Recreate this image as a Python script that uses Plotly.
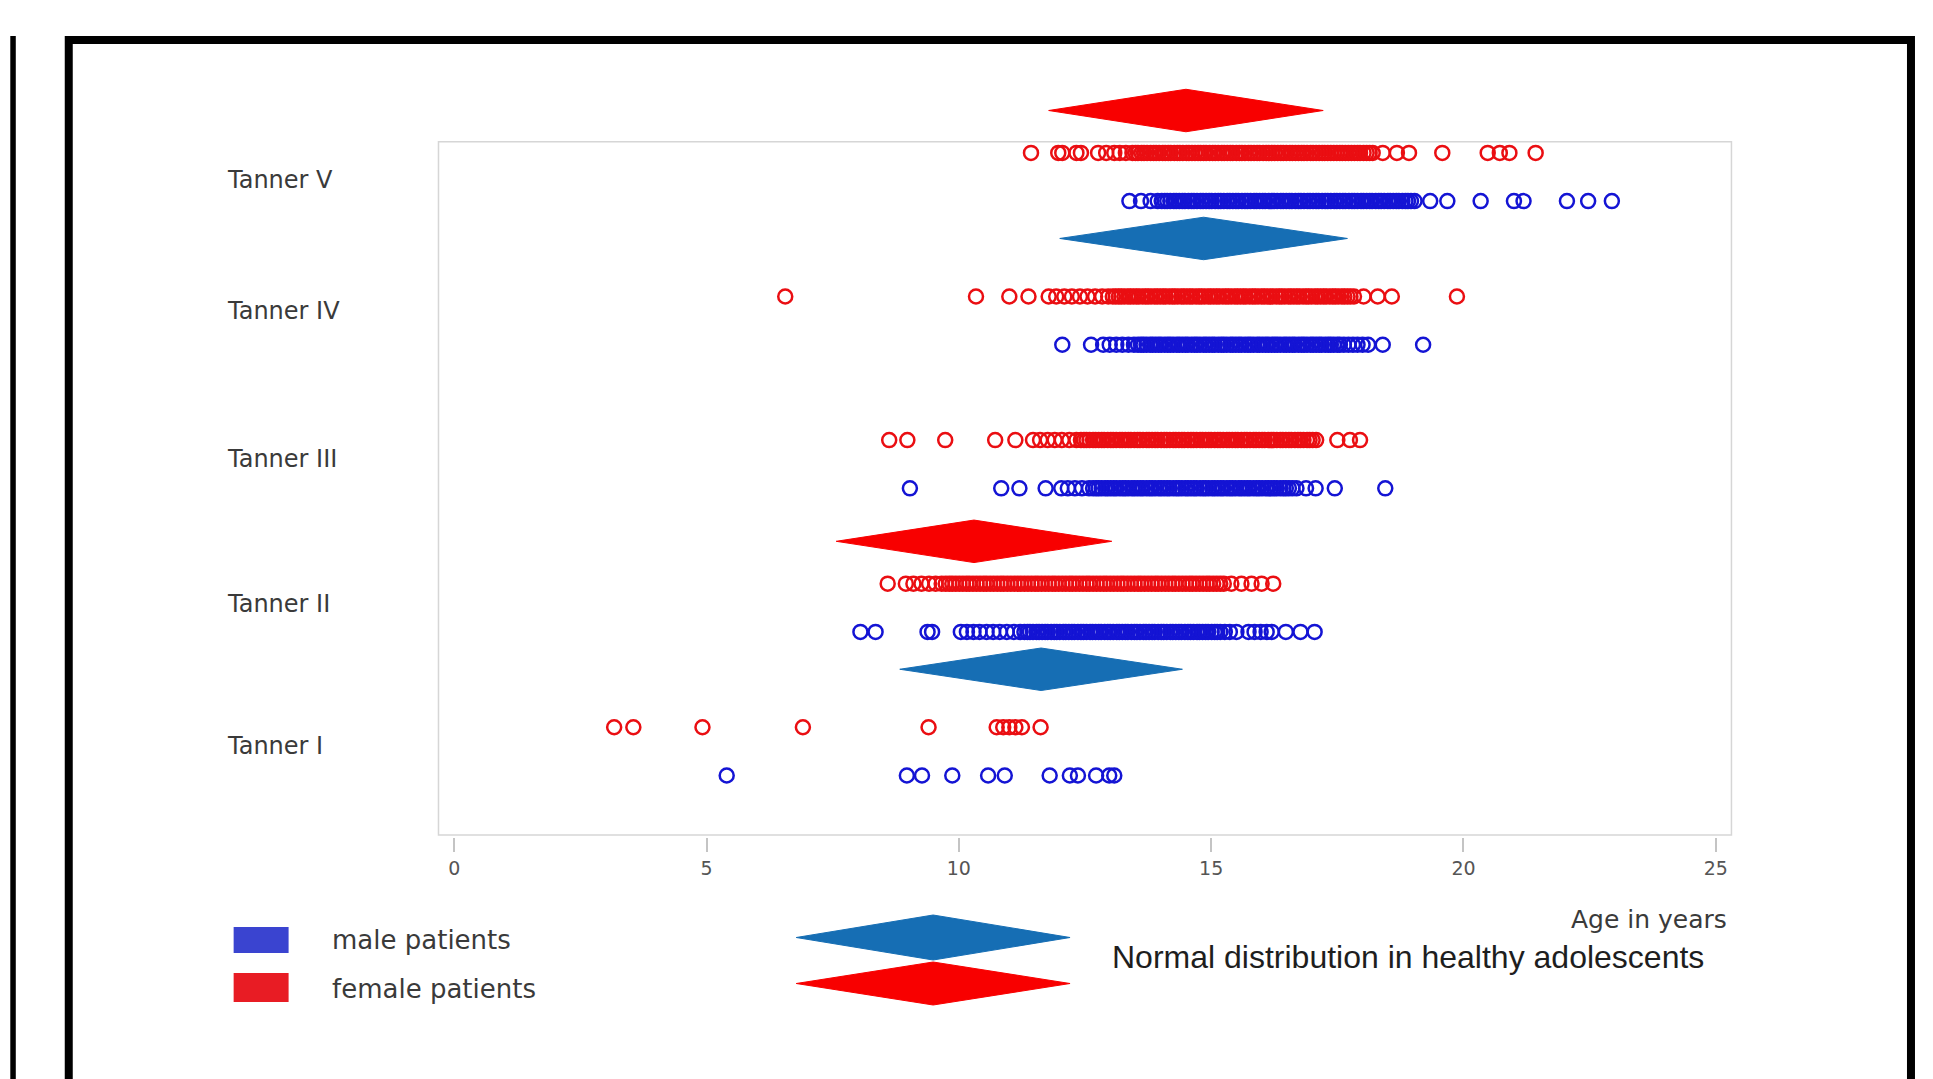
import plotly.graph_objects as go

# ---------------- data ----------------
stages = ["Tanner I", "Tanner II", "Tanner III", "Tanner IV", "Tanner V"]
x_ticks = [0, 5, 10, 15, 20, 25]

female_I = [3.17, 3.55, 4.92, 6.91, 9.4, 10.75, 10.88, 11.0, 11.12, 11.25, 11.62]
male_I = [5.4, 8.97, 9.27, 9.87, 10.58, 10.91, 11.8, 12.2, 12.36, 12.72, 12.98, 13.08]

female_II = [8.59, 8.95, 9.1, 9.26, 9.41, 9.54, 9.66,
             9.74, 9.81, 9.87, 9.94, 10.01, 10.08, 10.15, 10.21, 10.28, 10.35, 10.42, 10.49, 10.55,
             10.62, 10.69, 10.76, 10.83, 10.89, 10.96, 11.03, 11.1, 11.17, 11.23, 11.3, 11.37, 11.44,
             11.51, 11.57, 11.64, 11.71, 11.78, 11.85, 11.91, 11.98, 12.05, 12.12, 12.19, 12.25, 12.32,
             12.39, 12.46, 12.53, 12.59, 12.66, 12.73, 12.8, 12.87, 12.93, 13.0, 13.07, 13.14, 13.21,
             13.27, 13.34, 13.41, 13.48, 13.55, 13.61, 13.68, 13.75, 13.82, 13.89, 13.95, 14.02, 14.09,
             14.16, 14.23, 14.29, 14.36, 14.43, 14.5, 14.57, 14.63, 14.7, 14.77, 14.84, 14.91, 14.97,
             15.04, 15.11, 15.18, 15.25,
             15.4, 15.6, 15.8, 16.0, 16.23]
male_II = [8.05, 8.35, 9.38, 9.47, 10.04, 10.16, 10.29, 10.41, 10.55, 10.68, 10.81, 10.95, 11.09, 11.22,
           11.3, 11.36, 11.41, 11.47, 11.54, 11.59, 11.65, 11.71, 11.76, 11.83, 11.89, 11.94, 12.0,
           12.07, 12.12, 12.18, 12.24, 12.29, 12.36, 12.42, 12.47, 12.53, 12.6, 12.65, 12.71, 12.77,
           12.82, 12.89, 12.95, 13.0, 13.06, 13.13, 13.18, 13.24, 13.3, 13.35, 13.42, 13.48, 13.53,
           13.59, 13.66, 13.71, 13.77, 13.83, 13.88, 13.95, 14.01, 14.06, 14.12, 14.19, 14.24, 14.3,
           14.36, 14.41, 14.48, 14.54, 14.59, 14.65, 14.72, 14.77, 14.83, 14.89, 14.94, 15.01, 15.07,
           15.12, 15.18, 15.27,
           15.37, 15.5, 15.74, 15.86, 15.98, 16.1, 16.2, 16.48, 16.77, 17.05]

female_III = [8.62, 8.98, 9.73, 10.72, 11.12, 11.47, 11.61, 11.76, 11.9, 12.04, 12.19, 12.33,
              12.42, 12.48, 12.53, 12.59, 12.66, 12.71, 12.77, 12.83, 12.88, 12.95, 13.01, 13.06, 13.12,
              13.19, 13.24, 13.3, 13.36, 13.41, 13.48, 13.54, 13.59, 13.65, 13.72, 13.77, 13.83, 13.89,
              13.94, 14.01, 14.07, 14.12, 14.18, 14.25, 14.3, 14.36, 14.42, 14.47, 14.54, 14.6, 14.65,
              14.71, 14.78, 14.83, 14.89, 14.95, 15.0, 15.07, 15.13, 15.18, 15.24, 15.31, 15.36, 15.42,
              15.48, 15.53, 15.6, 15.66, 15.71, 15.77, 15.84, 15.89, 15.95, 16.01, 16.06, 16.13, 16.19,
              16.24, 16.3, 16.37, 16.42, 16.48, 16.54, 16.59, 16.66, 16.72, 16.77, 16.83, 16.9, 16.95,
              17.01, 17.08,
              17.5, 17.75, 17.95]
male_III = [9.03, 10.84, 11.2, 11.72, 12.03, 12.16, 12.3, 12.44, 12.58,
            12.66, 12.72, 12.77, 12.83, 12.9, 12.95, 13.01, 13.07, 13.12, 13.19, 13.25, 13.3, 13.36,
            13.43, 13.48, 13.54, 13.6, 13.65, 13.72, 13.78, 13.83, 13.89, 13.96, 14.01, 14.07, 14.13,
            14.18, 14.25, 14.31, 14.36, 14.42, 14.49, 14.54, 14.6, 14.66, 14.71, 14.78, 14.84, 14.89,
            14.95, 15.02, 15.07, 15.13, 15.19, 15.24, 15.31, 15.37, 15.42, 15.48, 15.55, 15.6, 15.66,
            15.72, 15.77, 15.84, 15.9, 15.95, 16.01, 16.08, 16.13, 16.19, 16.25, 16.3, 16.37, 16.43,
            16.48, 16.54, 16.61, 16.69,
            16.88, 17.07, 17.45, 18.45]

female_IV = [6.56, 10.34, 11.0, 11.38, 11.78, 11.93, 12.09, 12.24, 12.4, 12.55, 12.7, 12.84, 12.96,
             13.05, 13.11, 13.17, 13.22, 13.28, 13.35, 13.4, 13.46, 13.52, 13.57, 13.64, 13.7, 13.75,
             13.81, 13.88, 13.93, 13.99, 14.05, 14.1, 14.17, 14.23, 14.28, 14.34, 14.41, 14.46, 14.52,
             14.58, 14.63, 14.7, 14.76, 14.81, 14.87, 14.94, 14.99, 15.05, 15.11, 15.16, 15.23, 15.29,
             15.34, 15.4, 15.47, 15.52, 15.58, 15.64, 15.69, 15.76, 15.82, 15.87, 15.93, 16.0, 16.05,
             16.11, 16.17, 16.22, 16.29, 16.35, 16.4, 16.46, 16.53, 16.58, 16.64, 16.7, 16.75, 16.82,
             16.88, 16.93, 16.99, 17.06, 17.11, 17.17, 17.23, 17.28, 17.35, 17.41, 17.46, 17.52, 17.59,
             17.64, 17.7, 17.76, 17.83,
             18.02, 18.3, 18.58, 19.87]
male_IV = [12.05, 12.62, 12.86, 12.99, 13.12, 13.24, 13.36, 13.47,
           13.55, 13.61, 13.66, 13.72, 13.79, 13.84, 13.9, 13.96, 14.01, 14.08, 14.14, 14.19, 14.25,
           14.32, 14.37, 14.43, 14.49, 14.54, 14.61, 14.67, 14.72, 14.78, 14.85, 14.9, 14.96, 15.02,
           15.07, 15.14, 15.2, 15.25, 15.31, 15.38, 15.43, 15.49, 15.55, 15.6, 15.67, 15.73, 15.78,
           15.84, 15.91, 15.96, 16.02, 16.08, 16.13, 16.2, 16.26, 16.31, 16.37, 16.44, 16.49, 16.55,
           16.61, 16.66, 16.73, 16.79, 16.84, 16.9, 16.97, 17.02, 17.08, 17.14, 17.19, 17.26, 17.32,
           17.37, 17.43, 17.5, 17.55, 17.63, 17.72, 17.81, 17.9, 18.0, 18.11,
           18.4, 19.2]

female_V = [11.43, 11.97, 12.05, 12.33, 12.42, 12.76, 12.92, 13.08, 13.19, 13.31, 13.44,
            13.5, 13.55, 13.62, 13.67, 13.73, 13.8, 13.86, 13.91, 13.97, 14.04, 14.09, 14.15, 14.2,
            14.27, 14.33, 14.38, 14.44, 14.51, 14.56, 14.62, 14.68, 14.74, 14.79, 14.85, 14.9, 14.97,
            15.03, 15.08, 15.14, 15.21, 15.26, 15.32, 15.38, 15.43, 15.5, 15.56, 15.61, 15.67, 15.74,
            15.79, 15.85, 15.91, 15.96, 16.03, 16.09, 16.14, 16.2, 16.26, 16.32, 16.38, 16.43, 16.49,
            16.56, 16.61, 16.67, 16.73, 16.79, 16.84, 16.9, 16.97, 17.02, 17.08, 17.14, 17.2, 17.25,
            17.31, 17.37, 17.43, 17.49, 17.55, 17.6, 17.66, 17.72, 17.78, 17.84, 17.9, 17.95, 18.02,
            18.08, 18.14, 18.2,
            18.4, 18.68, 18.92, 19.58, 20.48, 20.72, 20.91, 21.43]
male_V = [13.38, 13.61, 13.8, 13.94,
          14.02, 14.08, 14.13, 14.19, 14.26, 14.31, 14.37, 14.43, 14.48, 14.55, 14.61, 14.66, 14.72,
          14.79, 14.84, 14.9, 14.96, 15.01, 15.08, 15.14, 15.19, 15.25, 15.32, 15.37, 15.43, 15.49,
          15.54, 15.61, 15.67, 15.72, 15.78, 15.85, 15.9, 15.96, 16.02, 16.07, 16.14, 16.2, 16.25,
          16.31, 16.38, 16.43, 16.49, 16.55, 16.6, 16.67, 16.73, 16.78, 16.84, 16.91, 16.96, 17.02,
          17.08, 17.13, 17.2, 17.26, 17.31, 17.37, 17.44, 17.49, 17.55, 17.61, 17.66, 17.73, 17.79,
          17.84, 17.9, 17.97, 18.02, 18.08, 18.14, 18.19, 18.26, 18.32, 18.37, 18.43, 18.5, 18.55,
          18.61, 18.67, 18.72, 18.79, 18.85, 18.9, 18.96, 19.03,
          19.34, 19.68, 20.34, 21.0, 21.19, 22.05, 22.47, 22.94]

# normal distribution in healthy adolescents (mean and half-width of the diamond, years)
norm_stage = ["Tanner II", "Tanner V"]
norm_female_mean = [10.3, 14.5]
norm_female_half = [2.73, 2.72]
norm_male_mean = [11.63, 14.85]
norm_male_half = [2.8, 2.85]

female_all = [female_I, female_II, female_III, female_IV, female_V]
male_all = [male_I, male_II, male_III, male_IV, male_V]

# ---------------- styling / layout ----------------
W, H = 1933, 1079
L, R, T, B = 433.5, 1736.4, 80, 837          # plot area pixels
X_RANGE = [-0.4, 25.4]
PX_PER_STAGE = 143.6
STAGE1_PX = 751.4
Y_RANGE = [1 + (STAGE1_PX - B) / PX_PER_STAGE, 1 + (STAGE1_PX - T) / PX_PER_STAGE]
LABEL_PX = [745.8, 604, 458.6, 310.7, 180]   # vertical pixel centre of stage labels

RED_PT = "rgb(234,14,18)"
BLUE_PT = "rgb(20,20,212)"
RED_DIA = "rgb(248,0,0)"
BLUE_DIA = "rgb(22,110,180)"
TXT = "#3a3a3a"
FONT = "DejaVu Sans"


def px(xp):
    return (xp - L) / (R - L)


def py(yp):
    return (B - yp) / (B - T)


def ydata(yp):
    return 1 + (STAGE1_PX - yp) / PX_PER_STAGE


fig = go.Figure()

stage_pos = {s: i + 1 for i, s in enumerate(stages)}
OFF = 0.168

for i, s in enumerate(stages):
    yc = stage_pos[s]
    fig.add_trace(go.Scatter(
        x=female_all[i], y=[yc + OFF] * len(female_all[i]), mode="markers",
        marker=dict(symbol="circle-open", size=14, color=RED_PT, line=dict(width=2.5, color=RED_PT)),
        showlegend=False, cliponaxis=False))
    fig.add_trace(go.Scatter(
        x=male_all[i], y=[yc - OFF] * len(male_all[i]), mode="markers",
        marker=dict(symbol="circle-open", size=14, color=BLUE_PT, line=dict(width=2.5, color=BLUE_PT)),
        showlegend=False, cliponaxis=False))

DH = 0.148
for s, m, h in zip(norm_stage, norm_female_mean, norm_female_half):
    yc = stage_pos[s] + OFF + 0.295
    fig.add_trace(go.Scatter(x=[m - h, m, m + h, m, m - h], y=[yc, yc + DH, yc, yc - DH, yc],
                             mode="lines", fill="toself", fillcolor=RED_DIA,
                             line=dict(color=RED_DIA, width=1), showlegend=False, hoverinfo="skip"))
for s, m, h in zip(norm_stage, norm_male_mean, norm_male_half):
    yc = stage_pos[s] - OFF - 0.26
    fig.add_trace(go.Scatter(x=[m - h, m, m + h, m, m - h], y=[yc, yc + DH, yc, yc - DH, yc],
                             mode="lines", fill="toself", fillcolor=BLUE_DIA,
                             line=dict(color=BLUE_DIA, width=1), showlegend=False, hoverinfo="skip"))

shapes = []
# light grey plot box
shapes.append(dict(type="rect", xref="x", yref="y", x0=-0.311, x1=25.31, y0=ydata(835), y1=ydata(141.8),
                   line=dict(color="#d6d6d6", width=1.5), layer="below"))
# outer black frame
shapes.append(dict(type="rect", xref="paper", yref="paper", x0=px(68), x1=px(1911.5), y0=py(1100), y1=py(40),
                   line=dict(color="black", width=8)))
shapes.append(dict(type="rect", xref="paper", yref="paper", x0=px(9.5), x1=px(15), y0=py(1100), y1=py(36),
                   line=dict(width=0), fillcolor="black"))
# legend squares
shapes.append(dict(type="rect", xref="paper", yref="paper", x0=px(233), x1=px(288), y0=py(953), y1=py(927),
                   line=dict(width=0), fillcolor="rgb(58,68,208)"))
shapes.append(dict(type="rect", xref="paper", yref="paper", x0=px(233), x1=px(288), y0=py(1002), y1=py(973),
                   line=dict(width=0), fillcolor="rgb(232,28,36)"))


def diamond_path(cx, cy, hw, hh):
    pts = [(cx - hw, cy), (cx, cy - hh), (cx + hw, cy), (cx, cy + hh)]
    return "M " + " L ".join(f"{px(a)},{py(b)}" for a, b in pts) + " Z"


shapes.append(dict(type="path", xref="paper", yref="paper", path=diamond_path(933, 937.5, 137, 22.5),
                   fillcolor=BLUE_DIA, line=dict(color=BLUE_DIA, width=1)))
shapes.append(dict(type="path", xref="paper", yref="paper", path=diamond_path(933, 983.5, 137, 21.5),
                   fillcolor=RED_DIA, line=dict(color=RED_DIA, width=1)))

annotations = []
for s, lp in zip(stages, LABEL_PX):
    annotations.append(dict(xref="paper", yref="paper", x=px(224), y=py(lp), text=s,
                            xanchor="left", yanchor="middle", showarrow=False,
                            font=dict(family=FONT, size=24, color=TXT)))
annotations.append(dict(xref="paper", yref="paper", x=px(329), y=py(940), text="male patients",
                        xanchor="left", yanchor="middle", showarrow=False,
                        font=dict(family=FONT, size=26, color=TXT)))
annotations.append(dict(xref="paper", yref="paper", x=px(329), y=py(989), text="female patients",
                        xanchor="left", yanchor="middle", showarrow=False,
                        font=dict(family=FONT, size=26, color=TXT)))
annotations.append(dict(xref="paper", yref="paper", x=px(1729), y=py(919), text="Age in years",
                        xanchor="right", yanchor="middle", showarrow=False,
                        font=dict(family=FONT, size=25, color=TXT)))
annotations.append(dict(xref="paper", yref="paper", x=px(1110), y=py(957),
                        text="Normal distribution in healthy adolescents",
                        xanchor="left", yanchor="middle", showarrow=False,
                        font=dict(family="Liberation Sans", size=32, color="#1e1e1e")))

fig.update_layout(
    width=W, height=H, autosize=False,
    margin=dict(l=L, r=W - R, t=T, b=H - B, pad=0),
    paper_bgcolor="white", plot_bgcolor="white",
    shapes=shapes, annotations=annotations,
    xaxis=dict(range=X_RANGE, tickvals=x_ticks, ticktext=[str(v) for v in x_ticks],
               ticks="outside", ticklen=14, tickwidth=1.5, tickcolor="#c4c4c4",
               showgrid=False, zeroline=False, showline=False,
               tickfont=dict(family=FONT, size=19, color="#555555")),
    yaxis=dict(range=Y_RANGE, visible=False, showgrid=False, zeroline=False),
)

fig.write_html("out.html", config={"displayModeBar": False},
               post_script="document.body.style.margin='0';document.body.style.overflow='hidden';")
